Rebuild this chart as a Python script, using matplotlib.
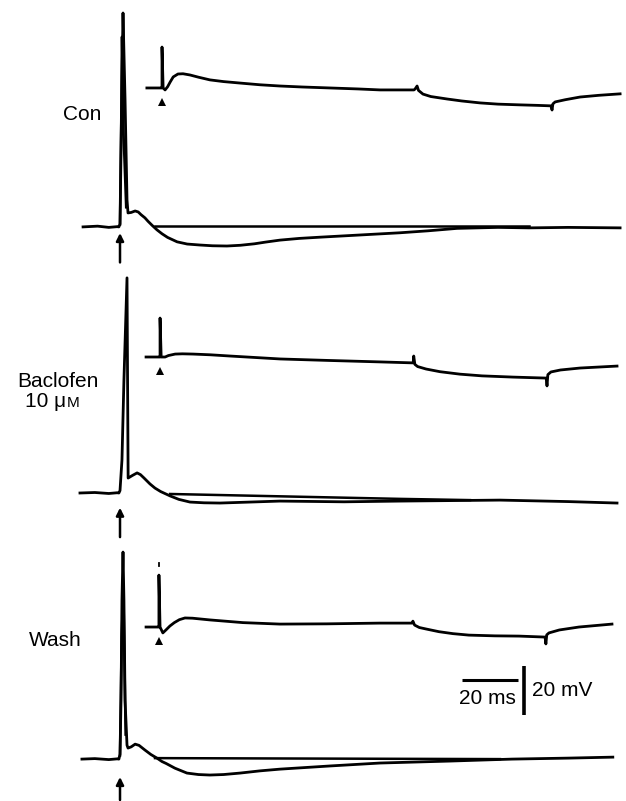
import numpy as np
import matplotlib
matplotlib.use("Agg")
import matplotlib.pyplot as plt

plt.rcParams['font.family'] = ['Liberation Sans', 'DejaVu Sans']

# ---- data (time in ms from stimulus, voltage in mV from baseline) ----
# Control
con_low_t = [-13.2, -8, -4, -1, -0.4, 0, 0.36, 0.7, 1.07, 1.8, 2.5, 2.86, 4.0, 5.4, 6.5, 7.5, 8.9, 10, 11.5, 13.2, 15, 17, 20.4, 24, 28.6, 33, 38.2, 43, 48, 52, 57.1, 64, 71.4, 85.7, 100, 110, 120.4, 135, 146, 160, 178.6]
con_low_v = [0, 0.3, -0.2, 0.1, 0, 1.2, 31, 60, 87.3, 52, 11, 5.7, 5.9, 6.5, 6.1, 5.0, 3.7, 2.3, 0.6, -1.2, -2.8, -4.3, -6.1, -7.0, -7.4, -7.7, -7.8, -7.5, -6.9, -6.2, -5.4, -4.7, -4.2, -3.3, -2.4, -1.6, -0.6, -0.2, -0.4, -0.2, -0.4]
con_spike2_t = [0, 0.5, 0.7, 1.2, 2.2]
con_spike2_v = [1.0, 50, 77.6, 40, 8]
con_flat_t = [12.5, 146]
con_flat_v = [0.4, 0.4]
con_up_t = [-5.4, -0.7, 0, 0, 0.4, 1.1, 2.0, 2.9, 4.0, 5.7, 7.5, 10, 13, 17.1, 22, 27.9, 35, 42.1, 50, 60, 70, 77.9, 90, 90.4, 91.1, 91.6, 93.2, 96, 101.8, 107, 113.6, 120, 127.9, 134, 138.9, 139.3, 139.6, 140.4, 144, 149.3, 156, 163.6]
con_up_v = [0, 0, 0, 16.7, 0, -0.8, 0.5, 2.4, 4.5, 5.7, 5.8, 5.3, 4.4, 3.3, 2.6, 2.0, 1.3, 0.8, 0.4, 0, -0.4, -0.8, -0.8, -0.4, 0.8, -1.0, -2.5, -3.5, -4.5, -5.3, -6.1, -6.6, -6.9, -7.1, -7.3, -9.0, -6.5, -5.7, -4.8, -3.7, -3.0, -2.4]

# Baclofen 10 uM
bac_low_t = [-14.3, -9, -4, -1, -0.4, 0, 0.7, 1.4, 2.5, 2.7, 2.9, 4.5, 6.1, 7.3, 8.5, 10.7, 12.5, 14.5, 17.9, 21, 25, 30, 35.7, 57.1, 80, 100, 135.7, 160, 177.5]
bac_low_v = [0, 0.2, -0.2, 0.1, 0, 1.0, 13.5, 46, 87.8, 46, 6.1, 7.2, 8.2, 7.5, 6.2, 3.7, 2.0, 0.6, -1.2, -2.6, -3.7, -4.0, -4.1, -3.3, -3.6, -3.3, -2.9, -3.5, -4.1]
bac_flat_t = [17.9, 100, 125]
bac_flat_v = [-0.4, -2.4, -2.9]
bac_up_t = [-5.0, -0.5, 0, 0, 0.4, 1.8, 3.0, 5.4, 8, 11.8, 18, 25, 42.9, 60, 78.6, 90.4, 90.6, 91.0, 92, 95, 100, 107.1, 115, 126.1, 137.9, 138.2, 138.5, 139.6, 143, 150, 163.2]
bac_up_v = [0, 0, 0, 15.9, 0, 0, 0.6, 1.2, 1.3, 1.2, 0.9, 0.4, -0.8, -1.4, -2.0, -2.4, 0.4, -3.0, -3.9, -4.9, -6.0, -7.0, -7.7, -8.2, -8.6, -11.8, -7.2, -6.1, -5.3, -4.5, -3.7]

# Wash
wash_low_t = [-13.6, -9, -4, -1, -0.4, 0, 0.36, 0.7, 1.07, 1.4, 1.8, 2.5, 2.86, 4.0, 5.4, 6.8, 8.9, 11, 13.2, 15, 16.5, 19.6, 23.9, 28, 32.1, 37, 42.9, 50, 57.1, 75, 92.9, 117.9, 140, 160, 176]
wash_low_v = [0, 0.2, -0.2, 0.1, 0, 2.0, 24, 65, 84.5, 65, 24, 5.7, 4.5, 5.0, 6.1, 5.6, 3.7, 1.9, 0.4, -1.0, -1.8, -3.7, -5.7, -6.3, -6.5, -6.3, -5.7, -4.8, -4.1, -2.8, -1.6, -0.8, 0, 0.4, 0.8]
wash_spike2_t = [0, 0.6, 1.2, 2.0]
wash_spike2_v = [1.5, 50, 70, 10]
wash_flat_t = [12.5, 135.7]
wash_flat_v = [0.4, 0]
wash_up_t = [-4.6, -0.4, 0, 0, 0.4, 1.4, 2.5, 3.9, 5.5, 7.3, 9.3, 12, 18.2, 30, 43.2, 60, 78.9, 90.4, 90.7, 91.3, 93, 95.4, 100, 105, 110.7, 120, 128.6, 137.9, 138.2, 138.5, 139.3, 143, 150, 161.8]
wash_up_v = [0, 0, 0, 21.2, 0, -2.4, -1.2, 0.4, 1.8, 3.0, 3.7, 3.6, 2.9, 1.8, 1.2, 1.3, 1.6, 1.6, 2.4, 0.8, -0.2, -0.8, -1.9, -2.7, -3.3, -3.6, -3.7, -4.1, -6.9, -3.2, -2.4, -1.2, 0, 1.2]
wash_up_tick_v = [24.8, 26.2]

labels = ['Con', 'Baclofen', 'Wash']

# ---- layout ----
fig = plt.figure(figsize=(6.26, 8.01), dpi=100)
ax = fig.add_axes([0, 0, 1, 1])
ax.set_xlim(-42.86, 180.71)
ax.set_ylim(0, 326.9)
ax.axis('off')

lw = 2.0
panels = [
    # lower baseline, upper baseline, upper t0, arrow (top, bottom) rel baseline
    dict(y0=234.3, yu=291.0, tu=15.0, arr=(-2.5, -14.5),
         low=(con_low_t, con_low_v), extra=[(con_spike2_t, con_spike2_v), (con_flat_t, con_flat_v)],
         up=(con_up_t, con_up_v)),
    dict(y0=125.7, yu=181.2, tu=14.3, arr=(-6.0, -18.0),
         low=(bac_low_t, bac_low_v), extra=[(bac_flat_t, bac_flat_v)],
         up=(bac_up_t, bac_up_v)),
    dict(y0=17.1, yu=71.0, tu=13.9, arr=(-7.3, -16.7),
         low=(wash_low_t, wash_low_v), extra=[(wash_spike2_t, wash_spike2_v), (wash_flat_t, wash_flat_v)],
         up=(wash_up_t, wash_up_v)),
]

for p in panels:
    t, v = p['low']
    ax.plot(np.array(t), np.array(v) + p['y0'], color='k', lw=lw, solid_joinstyle='round')
    for et, ev in p['extra']:
        ax.plot(np.array(et), np.array(ev) + p['y0'], color='k', lw=lw * 0.9)
    ut, uv = p['up']
    ax.plot(np.array(ut) + p['tu'], np.array(uv) + p['yu'], color='k', lw=lw, solid_joinstyle='round')
    # stimulus arrow under the lower trace
    top, bot = p['arr']
    ax.annotate('', xy=(0, p['y0'] + top), xytext=(0, p['y0'] + bot),
                arrowprops=dict(arrowstyle='-|>', color='k', lw=1.8, mutation_scale=11,
                                shrinkA=0, shrinkB=0))
    # arrowhead under the upper trace
    ax.plot([p['tu']], [p['yu'] - 5.6], marker='^', color='k', markersize=6, markeredgewidth=0)

# tiny tick above the wash artifact
ax.plot([panels[2]['tu']] * 2, np.array(wash_up_tick_v) + panels[2]['yu'], color='k', lw=1.3)

# scale bars: 20 ms and 20 mV
ax.plot([122.1, 142.1], [49.4, 49.4], color='k', lw=2.2, solid_capstyle='butt')
ax.plot([144.3, 144.3], [35.1, 55.1], color='k', lw=2.6, solid_capstyle='butt')
fig.text(487 / 626, 1 - 699 / 801, '20 ms', ha='center', va='center', fontsize=15)
fig.text(532 / 626, 1 - 691 / 801, '20 mV', ha='left', va='center', fontsize=15)

# condition labels
fig.text(82 / 626, 1 - 115 / 801, 'Con', ha='center', va='center', fontsize=15)
fig.text(58 / 626, 1 - 381 / 801, 'Baclofen', ha='center', va='center', fontsize=15)
fig.text(66 / 626, 1 - 407 / 801, '10 μ', ha='right', va='baseline', fontsize=15)
fig.text(66.5 / 626, 1 - 407 / 801, 'M', ha='left', va='baseline', fontsize=11)
fig.text(55 / 626, 1 - 641 / 801, 'Wash', ha='center', va='center', fontsize=15)

fig.savefig('out.png', dpi=100)
